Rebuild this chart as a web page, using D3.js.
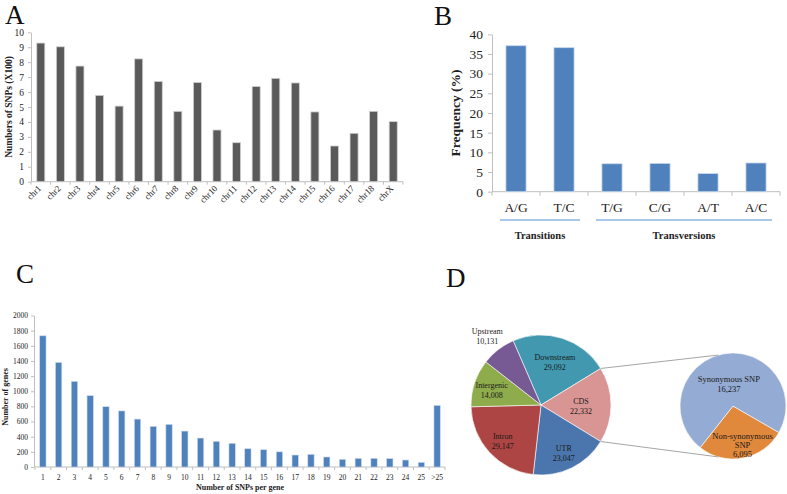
<!DOCTYPE html>
<html><head><meta charset="utf-8">
<script src="https://cdn.jsdelivr.net/npm/d3@7"></script>
<style>
body{margin:0;background:#fff;}
svg{display:block;font-family:"Liberation Serif","Times New Roman",serif;}
</style></head>
<body>
<svg id="chart" width="787" height="494"></svg>
<script>
// ---------- Data ----------
const chrCategories = ["chr1","chr2","chr3","chr4","chr5","chr6","chr7","chr8","chr9","chr10","chr11","chr12","chr13","chr14","chr15","chr16","chr17","chr18","chrX"];
const chrSNPs = [9.28,9.03,7.74,5.78,5.06,8.22,6.71,4.71,6.64,3.46,2.61,6.37,6.92,6.61,4.67,2.39,3.24,4.71,4.02];
const yTicksA = [0,1,2,3,4,5,6,7,8,9,10];

const subTypes = ["A/G","T/C","T/G","C/G","A/T","A/C"];
const subFreq = [37.1,36.6,7.1,7.2,4.6,7.3];
const yTicksB = [0,5,10,15,20,25,30,35,40];
const subGroups = [{name:"Transitions", members:["A/G","T/C"]},{name:"Transversions", members:["T/G","C/G","A/T","A/C"]}];

const snpPerGene = ["1","2","3","4","5","6","7","8","9","10","11","12","13","14","15","16","17","18","19","20","21","22","23","24","25",">25"];
const geneCounts = [1732,1380,1130,941,796,740,632,536,562,474,382,338,312,241,228,200,158,167,132,101,114,114,110,92,61,813];
const yTicksC = [0,200,400,600,800,1000,1200,1400,1600,1800,2000];

const regionNames = ["Downstream","CDS","UTR","Intron","Intergenic","Upstream"];
const regionCounts = [29092,22332,23047,29147,14008,10131];
const cdsNames = ["Non-synonymous SNP","Synonymous SNP"];
const cdsCounts = [6095,16237];

// ---------- Setup ----------
const svg = d3.select("#chart");
const axisColor = "#bfbfbf";
const fmt = d3.format(",");
const SERIF = "Liberation Serif";

function panelLetter(t,x,y){
  svg.append("text").attr("x",x).attr("y",y).attr("font-size",27).attr("fill","#111").text(t);
}
function styleAxis(g){
  g.attr("font-family",SERIF);
  g.selectAll(".domain").attr("stroke",axisColor);
  g.selectAll(".tick line").attr("stroke",axisColor);
  g.selectAll(".tick text").attr("fill","#222");
}
function catTicks(g,scale,y,len){
  const st = scale.step(), r = scale.range();
  const n = scale.domain().length;
  g.append("line").attr("x1",r[0]).attr("x2",r[1]).attr("y1",y).attr("y2",y).attr("stroke",axisColor);
  g.selectAll("line.bt").data(d3.range(n+1)).join("line").attr("class","bt")
    .attr("x1",i=>r[0]+i*st).attr("x2",i=>r[0]+i*st).attr("y1",y).attr("y2",y+len).attr("stroke",axisColor);
}

// ---------- Panel A ----------
panelLetter("A",5,24);
{
  const x = d3.scaleBand().domain(chrCategories).range([31,403]).paddingInner(0.59).paddingOuter(0.295);
  const y = d3.scaleLinear().domain([0,10]).range([181.7,32.3]);
  const g = svg.append("g");
  const ya = g.append("g").attr("transform","translate(31,0)")
    .call(d3.axisLeft(y).tickValues(yTicksA).tickFormat(d3.format("d")).tickSize(3).tickSizeOuter(0).tickPadding(4));
  styleAxis(ya); ya.selectAll(".tick text").attr("font-size",9.5);
  catTicks(g,x,181.7,3);
  g.selectAll("rect").data(chrSNPs).join("rect")
    .attr("x",(d,i)=>x(chrCategories[i])).attr("width",x.bandwidth())
    .attr("y",d=>y(d)).attr("height",d=>181.7-y(d))
    .attr("fill","#5a5a5a").attr("stroke","#d0d0d0").attr("stroke-width",0.8);
  const lab = g.selectAll("g.xl").data(chrCategories).join("g").attr("class","xl")
    .attr("transform",d=>"translate(" + (x(d)+x.bandwidth()/2+1) + ",189)");
  lab.append("text")
    .attr("transform","rotate(-45)")
    .attr("text-anchor","end").attr("font-family",SERIF).attr("font-size",9).attr("fill","#222").text(d=>d);
  g.append("text").attr("transform","translate(12,107) rotate(-90)")
    .attr("text-anchor","middle").attr("font-size",9.5).attr("font-weight","bold").attr("fill","#222")
    .text("Numbers of SNPs (X100)");
}

// ---------- Panel B ----------
panelLetter("B",434,25);
{
  const x = d3.scaleBand().domain(subTypes).range([492,780]).paddingInner(0.58).paddingOuter(0.29);
  const y = d3.scaleLinear().domain([0,40]).range([191.7,34.3]);
  const g = svg.append("g");
  const ya = g.append("g").attr("transform","translate(492,0)")
    .call(d3.axisLeft(y).tickValues(yTicksB).tickFormat(d3.format("d")).tickSize(4).tickSizeOuter(0).tickPadding(5));
  styleAxis(ya); ya.selectAll(".tick text").attr("font-size",13.5);
  catTicks(g,x,191.7,4);
  g.selectAll("rect").data(subFreq).join("rect")
    .attr("x",(d,i)=>x(subTypes[i])).attr("width",x.bandwidth())
    .attr("y",d=>y(d)).attr("height",d=>191.7-y(d))
    .attr("fill","#4f81bd").attr("stroke","#c9d7ea").attr("stroke-width",0.8);
  g.selectAll("text.xl").data(subTypes).join("text").attr("class","xl")
    .attr("x",d=>x(d)+x.bandwidth()/2).attr("y",212).attr("text-anchor","middle")
    .attr("font-size",13.5).attr("fill","#222").text(d=>d);
  subGroups.forEach(gr=>{
    const x0 = x(gr.members[0]) - 6, x1 = x(gr.members[gr.members.length-1]) + x.bandwidth() + 6;
    g.append("line").attr("x1",x0).attr("x2",x1).attr("y1",220).attr("y2",220)
      .attr("stroke","#8eb4e3").attr("stroke-width",1.6);
    g.append("text").attr("x",(x0+x1)/2).attr("y",239).attr("text-anchor","middle")
      .attr("font-size",10.5).attr("font-weight","bold").attr("fill","#222").text(gr.name);
  });
  g.append("text").attr("transform","translate(460,113) rotate(-90)")
    .attr("text-anchor","middle").attr("font-size",13.5).attr("font-weight","bold").attr("fill","#222")
    .text("Frequency (%)");
}

// ---------- Panel C ----------
panelLetter("C",16,283);
{
  const x = d3.scaleBand().domain(snpPerGene).range([35,445]).paddingInner(0.6).paddingOuter(0.3);
  const y = d3.scaleLinear().domain([0,2000]).range([467,315.5]);
  const g = svg.append("g");
  const ya = g.append("g").attr("transform","translate(34,0)")
    .call(d3.axisLeft(y).tickValues(yTicksC).tickFormat(d3.format("d")).tickSize(3).tickSizeOuter(0).tickPadding(3));
  styleAxis(ya); ya.selectAll(".tick text").attr("font-size",7.5);
  catTicks(g,x,467,3);
  g.selectAll("rect").data(geneCounts).join("rect")
    .attr("x",(d,i)=>x(snpPerGene[i])).attr("width",x.bandwidth())
    .attr("y",d=>y(d)).attr("height",d=>467-y(d))
    .attr("fill","#4f81bd").attr("stroke","#c9d7ea").attr("stroke-width",0.6);
  g.selectAll("text.xl").data(snpPerGene).join("text").attr("class","xl")
    .attr("x",d=>x(d)+x.bandwidth()/2).attr("y",480).attr("text-anchor","middle")
    .attr("font-size",7.5).attr("fill","#222").text(d=>d);
  g.append("text").attr("x",240).attr("y",490).attr("text-anchor","middle")
    .attr("font-size",8).attr("font-weight","bold").attr("fill","#222").text("Number of SNPs per gene");
  g.append("text").attr("transform","translate(8,397) rotate(-90)")
    .attr("text-anchor","middle").attr("font-size",8).attr("font-weight","bold").attr("fill","#222")
    .text("Number of genes");
}

// ---------- Panel D ----------
panelLetter("D",446,287);
{
  const cx = 541, cy = 405, r = 70;
  const sx = 733, sy = 406, sr = 53;
  const regionColors = ["#4198af","#d99594","#4a76ad","#ac4543","#8fac4c","#775a94"];
  const cdsColors = ["#e0883c","#94abd3"];
  const g = svg.append("g");
  const total = d3.sum(regionCounts);
  const cdsHalf = regionCounts[1]/total*Math.PI; // centre CDS at 3 o'clock
  const startA = Math.PI/2 - cdsHalf - regionCounts[0]/total*2*Math.PI;
  const pie = d3.pie().sort(null).startAngle(startA).endAngle(startA+2*Math.PI);
  const arcs = pie(regionCounts);
  const arc = d3.arc().innerRadius(0).outerRadius(r);
  const mg = g.append("g").attr("transform",`translate(${cx},${cy})`);
  mg.selectAll("path").data(arcs).join("path").attr("d",arc)
    .attr("fill",(d,i)=>regionColors[i]).attr("stroke","#ffffff").attr("stroke-width",0.6);
  const labelR = {"Upstream":88,"CDS":40,"Downstream":46};
  arcs.forEach((a,i)=>{
    const name = regionNames[i];
    const lr = labelR[name] || 52;
    const m = (a.startAngle+a.endAngle)/2;
    const lx = lr*Math.sin(m), ly = -lr*Math.cos(m);
    const t = mg.append("text").attr("text-anchor","middle").attr("font-size",8).attr("fill","#1a1a1a");
    t.append("tspan").attr("x",lx).attr("y",ly-1).text(name);
    t.append("tspan").attr("x",lx).attr("y",ly+9).text(fmt(regionCounts[i]));
  });
  // secondary pie
  const s0 = 120*Math.PI/180;
  const spie = d3.pie().sort(null).startAngle(s0).endAngle(s0+2*Math.PI);
  const sarcs = spie(cdsCounts);
  const sarc = d3.arc().innerRadius(0).outerRadius(sr);
  const sg = g.append("g").attr("transform",`translate(${sx},${sy})`);
  sg.selectAll("path").data(sarcs).join("path").attr("d",sarc)
    .attr("fill",(d,i)=>cdsColors[i]).attr("stroke","#ffffff").attr("stroke-width",0.6);
  // connector lines
  const cdsArc = arcs[1];
  const pA = a=>[cx + r*Math.sin(a), cy - r*Math.cos(a)];
  const pS = a=>[sx + sr*Math.sin(a), sy - sr*Math.cos(a)];
  const t1 = pA(cdsArc.startAngle), t2 = pA(cdsArc.endAngle);
  const u1 = pS(-16*Math.PI/180), u2 = pS(196*Math.PI/180);
  g.append("line").attr("x1",t1[0]).attr("y1",t1[1]).attr("x2",u1[0]).attr("y2",u1[1]).attr("stroke","#a6a6a6").attr("stroke-width",1);
  g.append("line").attr("x1",t2[0]).attr("y1",t2[1]).attr("x2",u2[0]).attr("y2",u2[1]).attr("stroke","#a6a6a6").attr("stroke-width",1);
  // secondary labels
  const synA = (sarcs[1].startAngle+sarcs[1].endAngle)/2;
  const st = sg.append("text").attr("text-anchor","middle").attr("font-size",8.5).attr("fill","#1a1a1a");
  st.append("tspan").attr("x",22*Math.sin(synA)).attr("y",-22*Math.cos(synA)-2).text(cdsNames[1]);
  st.append("tspan").attr("x",22*Math.sin(synA)).attr("y",-22*Math.cos(synA)+8).text(fmt(cdsCounts[1]));
  const nsA = (sarcs[0].startAngle+sarcs[0].endAngle)/2;
  const nx = 40*Math.sin(nsA)+2, ny = -40*Math.cos(nsA);
  const nt = sg.append("text").attr("text-anchor","middle").attr("font-size",8.5).attr("fill","#1a1a1a");
  nt.append("tspan").attr("x",nx).attr("y",ny-6).text("Non-synonymous");
  nt.append("tspan").attr("x",nx).attr("y",ny+3).text("SNP");
  nt.append("tspan").attr("x",nx).attr("y",ny+12).text(fmt(cdsCounts[0]));
}
</script>
</body></html>
